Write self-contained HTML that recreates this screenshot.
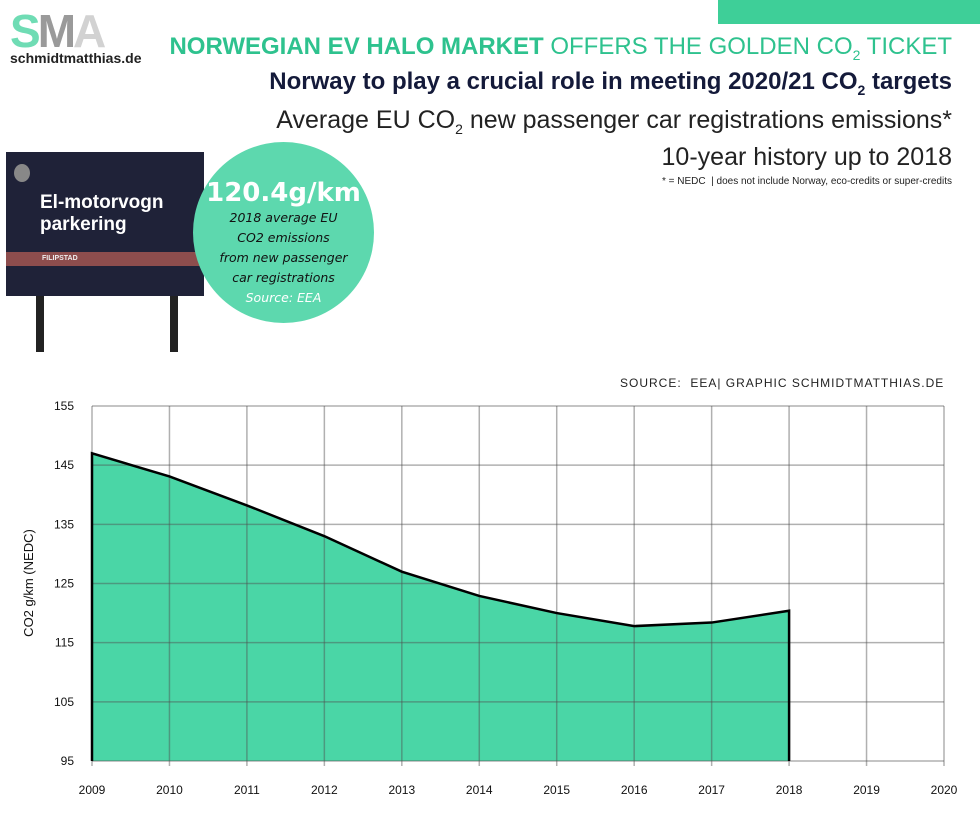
<!DOCTYPE html>
<html><head><meta charset="utf-8">
<style>
body{margin:0;width:980px;height:827px;background:#fff;font-family:"Liberation Sans","DejaVu Sans",sans-serif;overflow:hidden;position:relative}
.abs{position:absolute}
.r{right:28px;text-align:right;white-space:nowrap}
</style></head><body>
<div class="abs" style="left:718px;top:0;width:262px;height:24px;background:#3ecf98"></div>
<div class="abs" style="left:10px;top:8px">
 <div style="font-size:46px;font-weight:bold;letter-spacing:-3px;line-height:46px"><span style="color:#6fdcb4">S</span><span style="color:#9a9a9a">M</span><span style="color:#d2d2d2">A</span></div>
 <div style="font-size:14px;font-weight:bold;color:#222;margin-top:-4px">schmidtmatthias.de</div>
</div>
<div class="abs r" style="top:33px;font-size:24px;color:#2ec28e"><b>NORWEGIAN EV HALO MARKET</b> OFFERS THE GOLDEN CO<sub style="font-size:14px">2</sub> TICKET</div>
<div class="abs r" style="top:68px;font-size:24px;font-weight:bold;color:#141a3a">Norway to play a crucial role in meeting 2020/21 CO<sub style="font-size:14px">2</sub> targets</div>
<div class="abs r" style="top:106px;font-size:25px;color:#222">Average EU CO<sub style="font-size:14px">2</sub> new passenger car registrations emissions*</div>
<div class="abs r" style="top:143px;font-size:25px;color:#222">10-year history up to 2018</div>
<div class="abs r" style="top:176px;font-size:10px;color:#222">* = NEDC &nbsp;| does not include Norway, eco-credits or super-credits</div>
<div class="abs" style="left:6px;top:152px;width:200px;height:200px">
 <div style="position:absolute;left:30px;top:140px;width:8px;height:60px;background:#222"></div>
 <div style="position:absolute;left:164px;top:140px;width:8px;height:60px;background:#222"></div>
 <div style="position:absolute;left:0;top:0;width:198px;height:144px;background:#1f2238"></div>
 <div style="position:absolute;left:0;top:100px;width:198px;height:14px;background:#8d4d4d"></div>
 <div style="position:absolute;left:36px;top:103px;font-size:7px;font-weight:bold;color:#eee">FILIPSTAD</div>
 <div style="position:absolute;left:34px;top:40px;font-size:19px;font-weight:bold;color:#fff;line-height:22px">El-motorvogn<br>parkering</div>
 <div style="position:absolute;left:8px;top:12px;width:16px;height:18px;border-radius:50%;background:#888"></div>
</div>
<div class="abs" style="left:193px;top:142px;width:181px;height:181px;border-radius:50%;background:#5dd8ae;text-align:center;font-family:'DejaVu Sans',sans-serif">
 <div style="font-size:26px;font-weight:bold;color:#fff;margin-top:36px">120.4g/km</div>
 <div style="font-size:12.5px;font-style:italic;color:#111;line-height:20px">2018 average EU<br>CO2 emissions<br>from new passenger<br>car registrations<br><span style="color:#fff">Source: EEA</span></div>
</div>
<div class="abs" style="left:620px;top:376px;font-size:12px;letter-spacing:1px;color:#222">SOURCE: &nbsp;EEA| GRAPHIC SCHMIDTMATTHIAS.DE</div>
<svg class="abs" style="left:0;top:0" width="980" height="827" id="chart"></svg>
<script>
const years=[2009,2010,2011,2012,2013,2014,2015,2016,2017,2018,2019,2020];
const dataYears=[2009,2010,2011,2012,2013,2014,2015,2016,2017,2018];
const values=[147,143.1,138.2,133,127,122.9,120,117.8,118.4,120.4];
const yTicks=[95,105,115,125,135,145,155];
const X0=92,X1=944,Y0=761,Y1=406;
const xs=y=>X0+(y-2009)/(2020-2009)*(X1-X0);
const ys=v=>Y0-(v-95)/(155-95)*(Y0-Y1);
const svg=document.getElementById('chart');const NS='http://www.w3.org/2000/svg';
function mk(t,a){const e=document.createElementNS(NS,t);for(const k in a)e.setAttribute(k,a[k]);svg.appendChild(e);return e;}
let d='M'+xs(dataYears[0])+','+Y0;
dataYears.forEach((y,i)=>d+=' L'+xs(y)+','+ys(values[i]));
d+=' L'+xs(dataYears[dataYears.length-1])+','+Y0+' Z';
const area=mk('path',{d:d,fill:'#4ad6a6'});


yTicks.forEach(t=>{const l=mk('line',{x1:X0,x2:X1,y1:ys(t),y2:ys(t),stroke:'rgba(80,80,80,0.45)','stroke-width':1.5});


const tx=mk('text',{x:74,y:ys(t)+4,'text-anchor':'end','font-size':12,fill:'#111'});tx.textContent=t;

});
years.forEach(y=>{const l=mk('line',{x1:xs(y),x2:xs(y),y1:Y1,y2:Y0+5,stroke:'rgba(80,80,80,0.45)','stroke-width':1.5});


const tx=mk('text',{x:xs(y),y:794,'text-anchor':'middle','font-size':12,fill:'#111'});tx.textContent=y;

});
let ld='M'+xs(dataYears[0])+','+Y0;
dataYears.forEach((y,i)=>ld+=' L'+xs(y)+','+ys(values[i]));
ld+=' L'+xs(dataYears[dataYears.length-1])+','+Y0;
const line=mk('path',{d:ld,fill:'none',stroke:'#000','stroke-width':2.5});


const yt=mk('text',{x:0,y:0,transform:'translate(33,583) rotate(-90)','text-anchor':'middle','font-size':13,fill:'#111'});yt.textContent='CO2 g/km (NEDC)';


</script>
</body></html>
